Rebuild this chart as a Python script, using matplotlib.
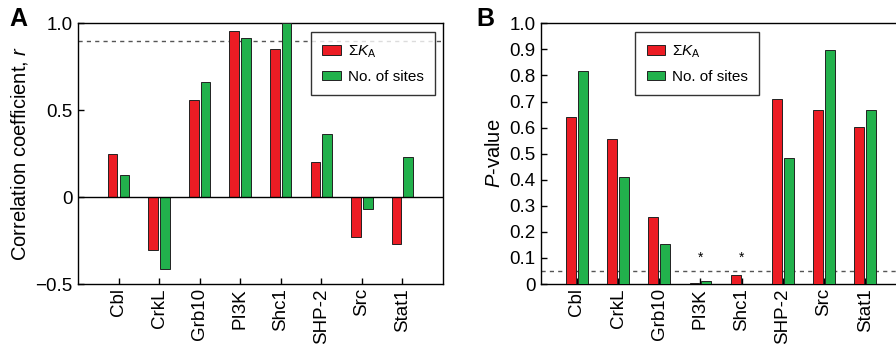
import numpy as np
import matplotlib
matplotlib.use("Agg")
import matplotlib.pyplot as plt

plt.rcParams['font.family'] = ['Liberation Sans', 'DejaVu Sans']
plt.rcParams['mathtext.fontset'] = 'custom'
plt.rcParams['mathtext.rm'] = 'Liberation Sans'
plt.rcParams['mathtext.it'] = 'Liberation Sans:italic'
plt.rcParams['font.size'] = 13.5

proteins = ["Cbl", "CrkL", "Grb10", "PI3K", "Shc1", "SHP-2", "Src", "Stat1"]
r_ka = [0.247, -0.305, 0.558, 0.953, 0.852, 0.200, -0.228, -0.272]
r_sites = [0.130, -0.415, 0.663, 0.913, 1.000, 0.366, -0.069, 0.232]
p_ka = [0.642, 0.555, 0.257, 0.006, 0.035, 0.710, 0.666, 0.601]
p_sites = [0.816, 0.412, 0.155, 0.013, 0.002, 0.482, 0.897, 0.666]
sig = [3, 4]

red = '#EC1C24'
green = '#22B14C'
x = np.arange(len(proteins))
w = 0.24
off = 0.145

fig = plt.figure(figsize=(8.96, 3.46), dpi=100)

def style(ax):
    ax.tick_params(direction='in', length=4, width=1, pad=4)
    ax.tick_params(axis='x', pad=3)
    for s in ax.spines.values():
        s.set_linewidth(1)
    ax.set_xticks(x)
    ax.set_xticklabels(proteins, rotation=90)

def bars(ax, a, b):
    ax.bar(x - off, a, w, color=red, edgecolor='#222222', linewidth=0.7, zorder=3, label='Σ$K_\\mathrm{A}$')
    ax.bar(x + off, b, w, color=green, edgecolor='#222222', linewidth=0.7, zorder=3, label='No. of sites')

def leg(ax, x0, y0):
    lg = ax.legend(loc='upper left', bbox_to_anchor=(x0, y0), bbox_transform=fig.transFigure,
                   frameon=True, fancybox=False, handlelength=1.2, handleheight=0.6,
                   borderpad=0.75, borderaxespad=0, labelspacing=0.65, handletextpad=0.45,
                   fontsize=11)
    lg.get_frame().set_edgecolor('black')
    lg.get_frame().set_linewidth(1)

# panel A
ax1 = fig.add_axes([0.087, 0.179, 0.4074, 0.7537])
bars(ax1, r_ka, r_sites)
ax1.axhline(0, color='black', lw=1, zorder=4)
ax1.axhline(0.9, color='#555555', lw=1, ls=(0, (3, 3)), zorder=2)
ax1.set_xlim(-1, 8)
ax1.set_ylim(-0.5, 1.0)
ax1.set_yticks([-0.5, 0, 0.5, 1.0])
ax1.set_yticklabels(['\u22120.5', '0', '0.5', '1.0'])
ax1.set_ylabel('Correlation coefficient, $r$', labelpad=4, fontsize=14.5)
style(ax1)
leg(ax1, 0.347, 0.907)
fig.text(0.011, 0.945, 'A', fontsize=18, fontweight='bold', va='center')

# panel B
ax2 = fig.add_axes([0.6038, 0.179, 0.4078, 0.7537])
bars(ax2, p_ka, p_sites)
ax2.axhline(0.05, color='#555555', lw=1, ls=(0, (3, 3)), zorder=2)
for i in sig:
    ax2.text(i, 0.1, '*', ha='center', va='center', fontsize=10)
ax2.set_xlim(-0.87, 8)
ax2.set_ylim(0, 1.0)
ax2.set_yticks(np.arange(0, 1.01, 0.1))
ax2.set_yticklabels(['0'] + ['%.1f' % v for v in np.arange(0.1, 1.01, 0.1)])
ax2.set_ylabel('$P$-value', labelpad=4, fontsize=14.5)
style(ax2)
leg(ax2, 0.709, 0.907)
fig.text(0.532, 0.945, 'B', fontsize=18, fontweight='bold', va='center')

fig.savefig('out.png', dpi=100)
